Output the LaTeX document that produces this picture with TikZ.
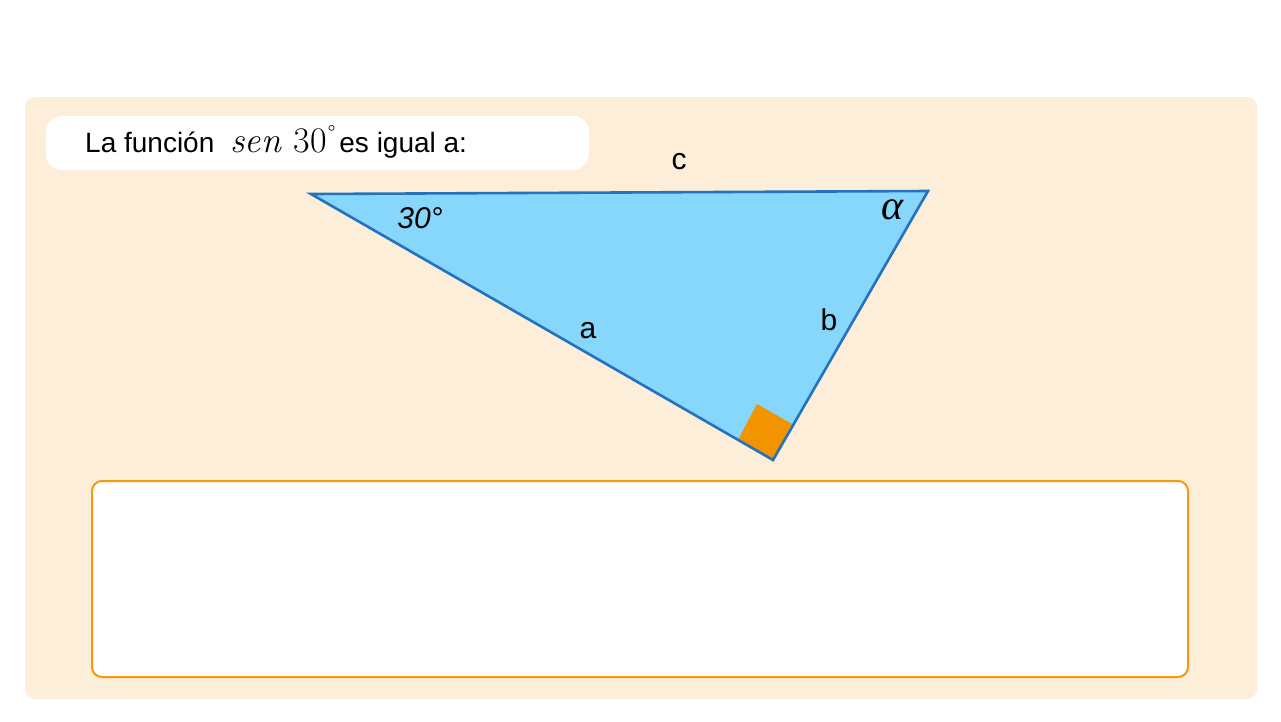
\documentclass[tikz,border=0pt]{standalone}
\usepackage{fontspec}
\setmainfont{Liberation Sans}
\newfontfamily\lmr{Latin Modern Roman}
\newfontfamily\libserif{Liberation Serif}
\definecolor{bgbeige}{HTML}{FDEEDA}
\definecolor{trifill}{HTML}{87D6FC}
\definecolor{tristroke}{HTML}{2272C0}
\definecolor{rightang}{HTML}{F29400}
\definecolor{boxorange}{HTML}{F39A10}
\tikzset{
  lbl/.style={inner sep=0pt, font=\fontsize{30}{34}\selectfont},
}
\begin{document}
\begin{tikzpicture}[x=1pt,y=-1pt]
\useasboundingbox (0,0) rectangle (1281,721);
\fill[white] (0,0) rectangle (1281,721);
% background panel
\fill[bgbeige, rounded corners=10pt] (25,97) rectangle (1257,699);
% title pill
\fill[white, rounded corners=16pt] (46,116) rectangle (589,170);
\node[anchor=base west, inner sep=0pt, font=\fontsize{28}{32}\selectfont] (title) at (85,152)
  {La función\hspace{16pt}{\lmr\fontsize{36}{38}\selectfont\itshape sen\hspace{13pt}\upshape 30}\hspace{1pt}\raisebox{12pt}{\lmr\fontsize{22}{22}\selectfont °}\hspace{4pt}es igual a:};
% triangle
\coordinate (A) at (311,194);
\coordinate (B) at (928,191);
\coordinate (C) at (773,460);
\fill[trifill] (A) -- (B) -- (C) -- cycle;
\fill[rightang] (C) -- (738,440) -- (757,404) -- (792,424) -- cycle;
\draw[tristroke, line width=2.6pt, line join=miter] (A) -- (B) -- (C) -- cycle;
% labels
\node[lbl] (lc) at (679,162) {c};
\node[lbl] (la) at (588,331) {a};
\node[lbl] (lb) at (829,320) {b};
\node[lbl, font=\fontsize{30}{34}\selectfont\itshape] (l30) at (420,218) {30°};
\node[inner sep=0pt, font=\libserif\fontsize{42}{44}\selectfont\itshape] (lalpha) at (893,210) {α};
% answer box
\draw[boxorange, fill=white, line width=2pt, rounded corners=10pt] (92,481) rectangle (1188,677);
\end{tikzpicture}
\end{document}
